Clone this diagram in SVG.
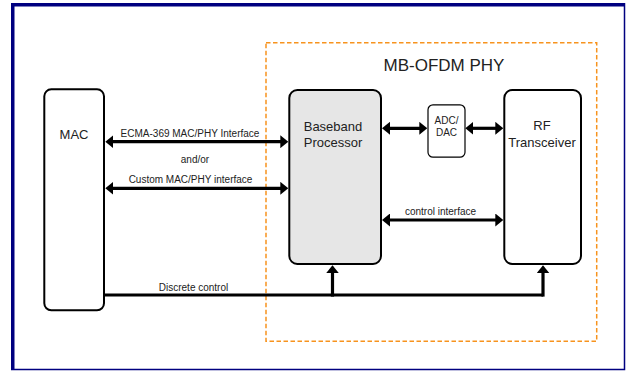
<svg xmlns="http://www.w3.org/2000/svg" width="626" height="371" viewBox="0 0 626 371">
  <style>
    .box { stroke: #000; stroke-width: 2; fill: #fff; }
    .bb { fill: #e6e6e6; }
    .small { stroke-width: 1.2; }
    .lbl { font-family: "Liberation Sans", Arial, sans-serif; font-size: 13px; fill: #222; text-anchor: middle; }
    .cl { font-family: "Liberation Sans", Arial, sans-serif; font-size: 10px; fill: #222; text-anchor: middle; }
    .wire { stroke: #000; stroke-width: 3.2; fill: none; }
    .bi { marker-start: url(#head); marker-end: url(#head); }
    .uni { marker-end: url(#head); }
  </style>
  <defs>
    <marker id="head" viewBox="0 0 8 13" refX="4" refY="6.5" markerWidth="8" markerHeight="13" markerUnits="userSpaceOnUse" orient="auto-start-reverse">
      <path d="M0,0 L8,6.5 L0,13 z" fill="#000"/>
    </marker>
  </defs>

  <rect width="626" height="371" fill="#fff"/>

  <!-- page frame: heavy left/top edge, thin right/bottom edge -->
  <g id="frame" fill="none" stroke="#000080">
    <path d="M624.5,3 V369.5 H11" stroke-width="1.5"/>
    <path d="M12.75,369.5 V4.75 H625" stroke-width="3.5"/>
  </g>

  <!-- PHY boundary -->
  <g id="phy">
    <rect x="266" y="42.7" width="330.7" height="298.6" fill="none" stroke="#f7931e" stroke-width="1.5" stroke-dasharray="4.5 2.5"/>
    <text x="444" y="70.5" font-family="Liberation Sans, Arial, sans-serif" font-size="17" fill="#222" text-anchor="middle">MB-OFDM PHY</text>
  </g>

  <g id="mac">
    <rect class="box" x="44.3" y="89.3" width="59.7" height="221" rx="7"/>
    <text class="lbl" x="74" y="139">MAC</text>
  </g>

  <g id="baseband">
    <rect class="box bb" x="289.3" y="90" width="91.7" height="174" rx="8"/>
    <text class="lbl" x="333" y="131">Baseband</text>
    <text class="lbl" x="333" y="147">Processor</text>
  </g>

  <g id="adcdac">
    <rect class="box small" x="428" y="104.8" width="37" height="52.4" rx="5"/>
    <text class="cl" x="446.5" y="124">ADC/</text>
    <text class="cl" x="446.5" y="136">DAC</text>
  </g>

  <g id="rf">
    <rect class="box" x="504.3" y="90" width="76.7" height="174" rx="8"/>
    <text class="lbl" x="542" y="130">RF</text>
    <text class="lbl" x="542" y="146.5">Transceiver</text>
  </g>

  <g id="connectors">
    <line class="wire bi" x1="109.3" y1="141.7" x2="284.3" y2="141.7"/>
    <line class="wire bi" x1="109.3" y1="188.3" x2="284.3" y2="188.3"/>
    <line class="wire bi" x1="386" y1="128.3" x2="423.3" y2="128.3"/>
    <line class="wire bi" x1="469.3" y1="128.3" x2="499.3" y2="128.3"/>
    <line class="wire bi" x1="386" y1="220" x2="499.3" y2="220"/>
    <path class="wire" d="M105,295 H543"/>
    <path class="wire uni" d="M332.5,296.6 V269.3"/>
    <path class="wire uni" d="M543,296.6 V269.3"/>
  </g>

  <g id="labels">
    <text class="cl" x="190" y="137">ECMA-369 MAC/PHY Interface</text>
    <text class="cl" x="195" y="163">and/or</text>
    <text class="cl" x="190.5" y="183">Custom MAC/PHY interface</text>
    <text class="cl" x="440.5" y="215">control interface</text>
    <text class="cl" x="193.5" y="290.5">Discrete control</text>
  </g>
</svg>
